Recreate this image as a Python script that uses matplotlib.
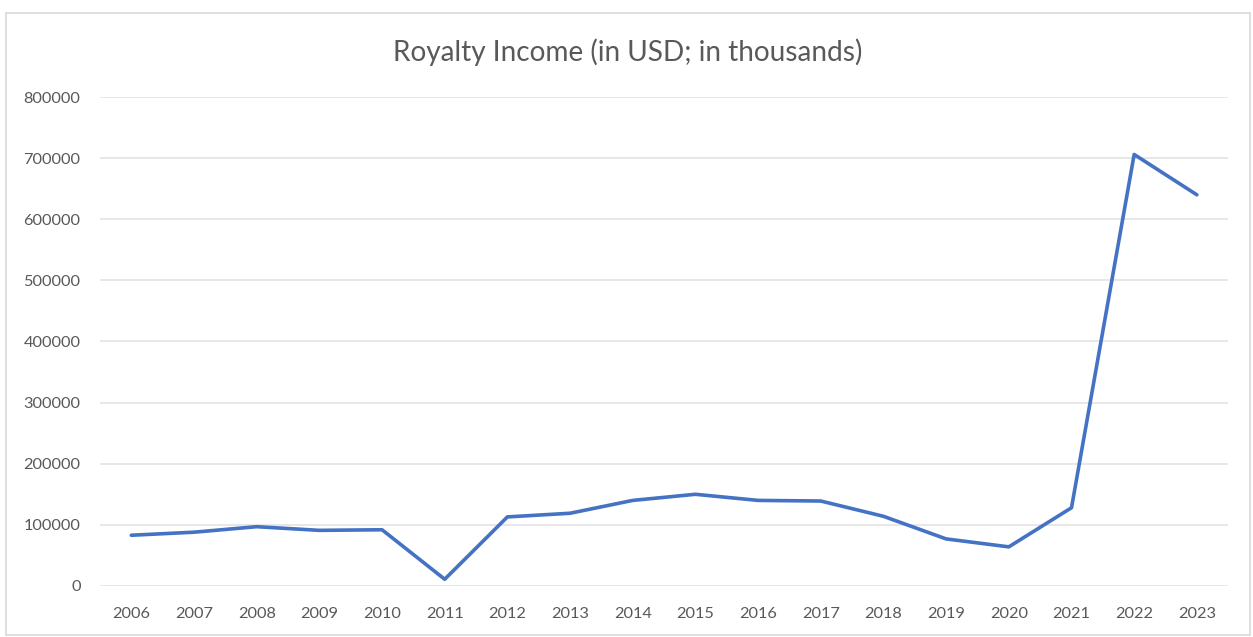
import matplotlib.pyplot as plt
from matplotlib.patches import Rectangle

years = [str(y) for y in range(2006, 2024)]
income = [83000, 88000, 97000, 91000, 92000, 11000, 113000, 119000, 140000,
          150000, 140000, 139000, 114000, 77000, 64000, 128000, 706000, 640000]
y_ticks = [0, 100000, 200000, 300000, 400000, 500000, 600000, 700000, 800000]

plt.rcParams['font.family'] = ['Lato', 'DejaVu Sans']

fig = plt.figure(figsize=(12.53, 6.37), dpi=100)
ax = fig.add_axes([0.0798, 0.0801, 0.9004, 0.7676])

# chart border like the spreadsheet frame
fig.patches.append(Rectangle((6 / 1253, 2 / 637), 1244 / 1253, (635 - 13) / 637,
                             transform=fig.transFigure, fill=False,
                             edgecolor='#d9d9d9', linewidth=1.2))

ax.plot(range(len(years)), income, color='#4472C4', linewidth=2.6,
        solid_joinstyle='round', solid_capstyle='round', zorder=3)

ax.set_xlim(-0.5, len(years) - 0.5)
ax.set_ylim(0, 800000)
ax.set_yticks(y_ticks)
ax.set_yticklabels([str(v) for v in y_ticks])
ax.set_xticks(range(len(years)))
ax.set_xticklabels(years)
ax.tick_params(axis='both', length=0, labelsize=11.8, labelcolor='#595959')
ax.tick_params(axis='y', pad=14)
ax.tick_params(axis='x', pad=15)

ax.grid(axis='y', color='#e3e3e3', linewidth=1.2)
ax.set_axisbelow(True)
for s in ax.spines.values():
    s.set_visible(False)

fig.text(0.5012, 1 - 52 / 637, 'Royalty Income (in USD; in thousands)',
         ha='center', va='center', fontsize=20.2, color='#595959')

fig.savefig('out.png', dpi=100)
